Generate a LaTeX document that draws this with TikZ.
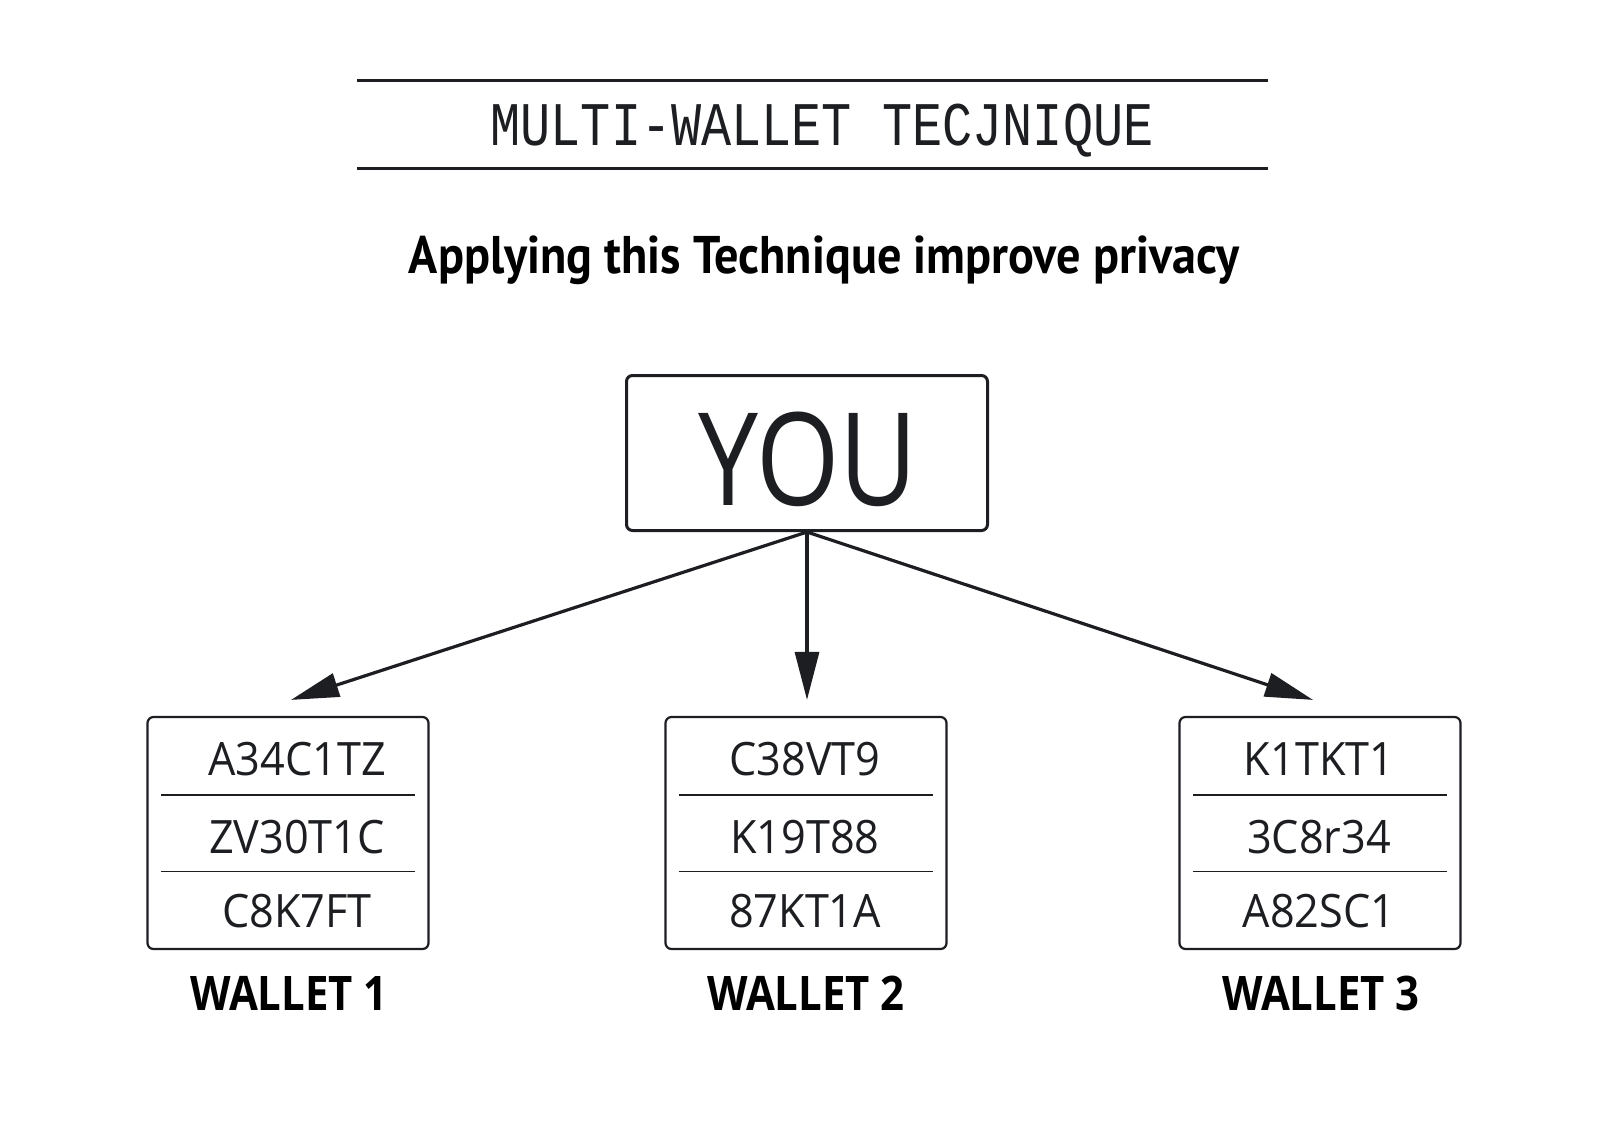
\documentclass[tikz,border=0pt]{standalone}
\usepackage{fontspec}
\usetikzlibrary{arrows.meta,calc}
\newfontfamily\titlefont[FakeStretch=0.81]{Liberation Mono}
\newfontfamily\subfont[FakeStretch=0.91]{PT Sans}
\newfontfamily\boxfont[FakeStretch=0.94]{Open Sans}
\newfontfamily\labfont[FakeStretch=0.88]{Open Sans}
\newfontfamily\youfont[FakeStretch=0.83]{Open Sans}
\definecolor{ink}{HTML}{1C1E22}
\tikzset{
  rule/.style={draw=ink,line width=1.5pt},
  youbox/.style={draw=ink,line width=1.5pt,rounded corners=3pt,minimum width=180.5pt,minimum height=77.5pt,inner sep=0pt},
  walletbox/.style={draw=ink,line width=1.1pt,rounded corners=3pt,minimum width=140.5pt,minimum height=116pt,inner sep=0pt},
  sep/.style={draw=ink,line width=0.7pt},
  rowtxt/.style={anchor=base,inner sep=0pt,text=ink,font=\boxfont\fontsize{23}{23}\selectfont},
  wlabel/.style={anchor=base,inner sep=0pt,text=black,font=\labfont\bfseries\fontsize{23.8}{24}\selectfont},
  arr/.style={draw=ink,line width=1.6pt,-{Triangle[length=24pt,width=12pt]}}
}
\begin{document}
\begin{tikzpicture}[x=0.5pt,y=-0.5pt]
\useasboundingbox[fill=white] (0,0) rectangle (1600,1131);
% title
\coordinate (l1a) at (357,80); \coordinate (l1b) at (1268,80);
\coordinate (l2a) at (357,168); \coordinate (l2b) at (1268,168);
\draw[rule] (l1a) -- (l1b);
\draw[rule] (l2a) -- (l2b);
\node[anchor=base,inner sep=0pt,text=ink,font=\titlefont\fontsize{31}{31}\selectfont] (title) at (822,145) {MULTI-WALLET TECJNIQUE};
\node[anchor=base,inner sep=0pt,text=black,font=\subfont\bfseries\fontsize{26.5}{27}\selectfont] (sub) at (824,273.5) {Applying this Technique improve privacy};
% you
\node[youbox] (you) at (807,453) {};
\node[anchor=base,inner sep=0pt,text=ink,font=\youfont\fontsize{64.5}{65}\selectfont] (youtxt) at (808,505) {YOU};
% wallets
\node[walletbox] (w1) at (288,833) {};
\node[walletbox] (w2) at (806,833) {};
\node[walletbox] (w3) at (1320,833) {};
\foreach \w in {w1,w2,w3}{
  \draw[sep] ($(\w.north west)+(15,79)$) -- ($(\w.north east)+(-15,79)$);
  \draw[sep] ($(\w.north west)+(15,155.5)$) -- ($(\w.north east)+(-15,155.5)$);
}
\node[rowtxt] (a1) at (297,775.5) {A34C1TZ};
\node[rowtxt] (a2) at (297,853.5) {ZV30T1C};
\node[rowtxt] (a3) at (297,927.5) {C8K7FT};
\node[rowtxt] (b1) at (805,775.5) {C38VT9};
\node[rowtxt] (b2) at (805,853.5) {K19T88};
\node[rowtxt] (b3) at (805,927.5) {87KT1A};
\node[rowtxt] (c1) at (1319,775.5) {K1TKT1};
\node[rowtxt] (c2) at (1319,853.5) {3C8r34};
\node[rowtxt] (c3) at (1319,927.5) {A82SC1};
\node[wlabel] (lw1) at (289,1010) {WALLET 1};
\node[wlabel] (lw2) at (806,1010) {WALLET 2};
\node[wlabel] (lw3) at (1321,1010) {WALLET 3};
% arrows
\draw[arr] (you.south) -- ([xshift=1.5pt,yshift=8pt]w1.north);
\draw[arr] (you.south) -- ([yshift=8pt]you.south |- w2.north);
\draw[arr] (you.south) -- ([xshift=-3.5pt,yshift=8pt]w3.north);
\end{tikzpicture}
\end{document}
